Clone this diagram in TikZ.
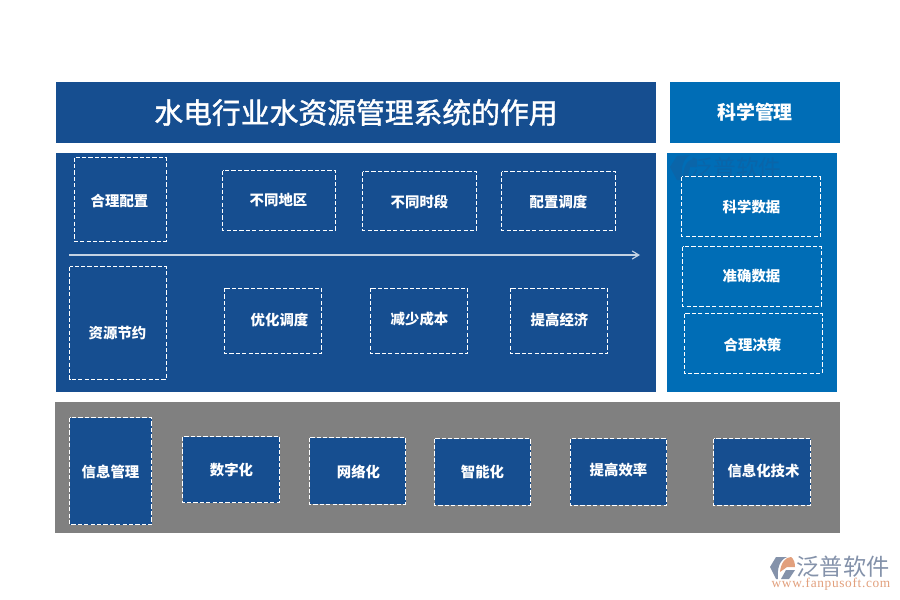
\documentclass[tikz,border=0pt]{standalone}
\usepackage{fontspec}
\setmainfont{Liberation Serif}
\newfontfamily\cjk{Noto Sans CJK SC}
\newfontfamily\cjktitle{Noto Sans CJK SC}[FakeBold=1.5]
\definecolor{navy}{RGB}{22,78,144}
\definecolor{skyb}{RGB}{0,109,182}
\definecolor{graybg}{RGB}{128,128,128}
\definecolor{logogray}{RGB}{132,146,170}
\definecolor{logoorange}{RGB}{226,160,125}
\definecolor{wmark}{RGB}{10,101,169}
\tikzset{
  dashbox/.style={draw=white,line width=0.75pt,dash pattern=on 3.2pt off 1.6pt},
  lab/.style={text=white,font=\cjk\bfseries\fontsize{10.8}{12}\selectfont,inner sep=0pt},
  arrowline/.style={draw=white!75!navy,line width=0.9pt,-{Straight Barb[length=5pt,width=6pt]}}
}
\usetikzlibrary{arrows.meta}
% name, x1,y1,x2,y2, text x, text y, text, fill
\newcommand{\dbox}[9]{%
  \draw[dashbox,fill=#9] (#2,#3) rectangle (#4,#5);
  \node[lab] (#1) at (#6,#7) {#8};
}
\begin{document}
\begin{tikzpicture}[x=0.75pt,y=-0.75pt]
\useasboundingbox (0,0) rectangle (900,600);
\fill[white] (0,0) rectangle (900,600);
% panels
\fill[navy] (56,82) rectangle (656,143);
\fill[skyb] (670,82) rectangle (840,143);
\fill[navy] (56,153) rectangle (656,392);
\fill[skyb] (667,153) rectangle (837,392);
\fill[graybg] (55,402) rectangle (840,533);
% titles
\node[text=white,font=\cjktitle\fontsize{21.6}{24}\selectfont,inner sep=0pt] (title) at (356,112.5) {水电行业水资源管理系统的作用};
\node[text=white,font=\cjk\bfseries\fontsize{14.2}{16}\selectfont,inner sep=0pt] (sci) at (755,112.5) {科学管理};
% watermark in right panel
\fill[wmark] (670,167) -- (677,156) -- (690,155) .. controls (682,160) and (680,170) .. (684,180) -- (677,180) -- cycle;
\fill[wmark] (683,176) .. controls (684,164) and (689,157) .. (697,160) -- (697,167) -- (690,167) -- (688,178) -- cycle;
\node[text=wmark,font=\cjk\fontsize{17}{18}\selectfont,inner sep=0pt] (wm) at (736,168) {泛普软件};
% main panel
\dbox{a1}{74.5}{157.5}{166}{241.5}{119.5}{200.5}{合理配置}{none}
\dbox{a2}{222.5}{170.5}{335.5}{230.5}{278.5}{200.5}{不同地区}{none}
\dbox{a3}{362.5}{171.5}{476.5}{230.5}{419.5}{201.5}{不同时段}{none}
\dbox{a4}{501.5}{171.5}{615.5}{230.5}{558.5}{201.5}{配置调度}{none}
\coordinate (arrowstart) at (69,255);
\coordinate (arrowend) at (640,255);
\draw[arrowline] (arrowstart) -- (arrowend);
\dbox{b1}{69.5}{266.5}{166}{379.5}{117.5}{333.5}{资源节约}{none}
\dbox{b2}{224.5}{288}{321.5}{353.5}{279.5}{319.5}{优化调度}{none}
\dbox{b3}{370.5}{288}{467.5}{353.5}{419.5}{319.5}{减少成本}{none}
\dbox{b4}{510.5}{288}{607.5}{353.5}{559.5}{319.5}{提高经济}{none}
% right panel
\dbox{c1}{681.5}{176.5}{820.5}{236.5}{751.5}{206.5}{科学数据}{none}
\dbox{c2}{682.5}{246.5}{821}{306.5}{751.5}{276.5}{准确数据}{none}
\dbox{c3}{684}{313.5}{822}{373.5}{752.5}{344.5}{合理决策}{none}
% bottom band
\dbox{d1}{69.5}{417.5}{151.5}{524.5}{110.5}{471.5}{信息管理}{navy}
\dbox{d2}{182.5}{436.5}{279.5}{502.5}{231.5}{470.5}{数字化}{navy}
\dbox{d3}{309.5}{437.5}{405.5}{504}{358.5}{471.5}{网络化}{navy}
\dbox{d4}{434.5}{438.5}{530.5}{505}{482.5}{471.5}{智能化}{navy}
\dbox{d5}{570}{438.5}{666.5}{505}{618.5}{470.5}{提高效率}{navy}
\dbox{d6}{713.5}{438.5}{810.5}{505}{763.5}{470.5}{信息化技术}{navy}
% logo
\fill[logogray] (770,567) -- (776,557) -- (787,557) .. controls (780,560) and (777,567) .. (778,579) -- (776,579) -- cycle;
\fill[logoorange] (780,572) .. controls (781,562) and (786,557) .. (791,557) .. controls (794,559) and (795,563) .. (795,567) -- (787,567) -- cycle;
\fill[logogray] (781,579) -- (786,570) -- (795,570) -- (789,579) -- cycle;
\node[text=logogray,font=\cjk\fontsize{17.4}{18}\selectfont,inner sep=0pt] (logotext) at (843,567) {泛普软件};
\node[text=logoorange,font=\fontsize{10}{11}\selectfont\addfontfeature{LetterSpace=5},inner sep=0pt] (logourl) at (831,584.5) {www.fanpusoft.com};
\end{tikzpicture}
\end{document}
